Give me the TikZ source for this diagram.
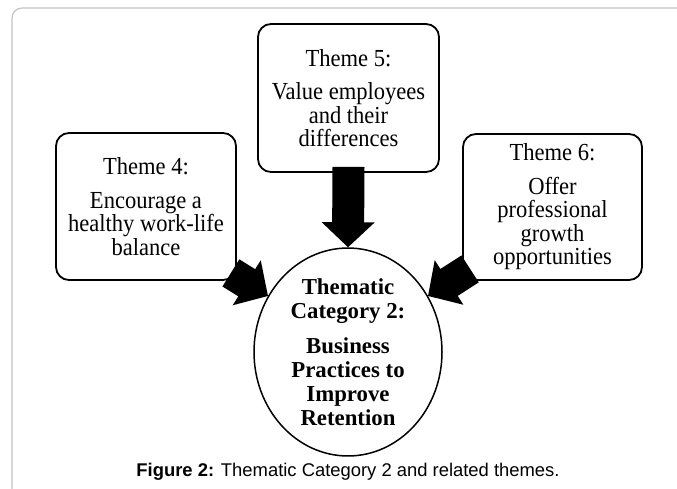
\documentclass[tikz,border=0pt]{standalone}
\usepackage{fontspec}
\setmainfont{Liberation Serif}
\newfontfamily\boxfont[FakeStretch=0.92]{Liberation Serif}
\newfontfamily\capfont{Liberation Sans}
\usetikzlibrary{calc,shapes.geometric}
\definecolor{framegray}{RGB}{196,196,196}
\newcommand{\blockarrow}[2]{%
  \coordinate (bah) at ($(#2)!25pt!(#1)$);
  \fill[black] ($(#1)!16pt!90:(#2)$) -- ($(bah)!16pt!90:(#2)$) -- ($(bah)!26.5pt!90:(#2)$) -- (#2)
    -- ($(bah)!26.5pt!-90:(#2)$) -- ($(bah)!16pt!-90:(#2)$) -- ($(#1)!16pt!-90:(#2)$) -- cycle;}
\tikzset{
  themebox/.style={draw, line width=1.8pt, rounded corners=13pt, align=center, inner sep=0pt,
    font=\boxfont\fontsize{24.5}{23.5}\selectfont},
  catnode/.style={ellipse, draw, line width=1.5pt, align=center, inner sep=0pt,
    minimum width=188pt, minimum height=193pt, font=\bfseries\fontsize{22.8}{24}\selectfont},
  capnode/.style={font=\capfont\fontsize{18.4}{20}\selectfont}
}
\begin{document}
\begin{tikzpicture}[x=1pt,y=-1pt]
\useasboundingbox (0,0) rectangle (677,488);
\fill[white] (0,0) rectangle (677,488);
\begin{scope}
  \clip (0,0) rectangle (677,488);
  \draw[framegray, line width=1.2pt, rounded corners=10pt] (12,540) -- (12,8) -- (730,8);
\end{scope}
\node[themebox, minimum width=180pt, minimum height=147pt] (b4) at (146,206.5)
  {Theme 4:\\[10pt]Encourage a\\healthy work-life\\balance};
\node[themebox, minimum width=181pt, minimum height=148pt] (b5) at (348.5,98)
  {Theme 5:\\[10pt]Value employees\\and their\\differences};
\node[themebox, minimum width=179pt, minimum height=146pt] (b6) at (552.5,207)
  {Theme 6:\\[10pt]Offer\\professional\\growth\\opportunities};
\node[catnode] (cat) at (348,352)
  {Thematic\\Category 2:\\[11pt]Business\\Practices to\\Improve\\Retention};
\node[capnode] (cap) at (348,472) {\textbf{Figure 2:} Thematic Category 2 and related themes.};
\coordinate (s5) at ($(b5.south)+(0,-6)$);
\coordinate (s4) at ($(b4.south east)+(-6,-8)$);
\coordinate (s6) at ($(b6.south west)+(8,-12)$);
\blockarrow{s5}{cat.north}
\blockarrow{s4}{cat.145}
\blockarrow{s6}{cat.35}
\end{tikzpicture}
\end{document}
